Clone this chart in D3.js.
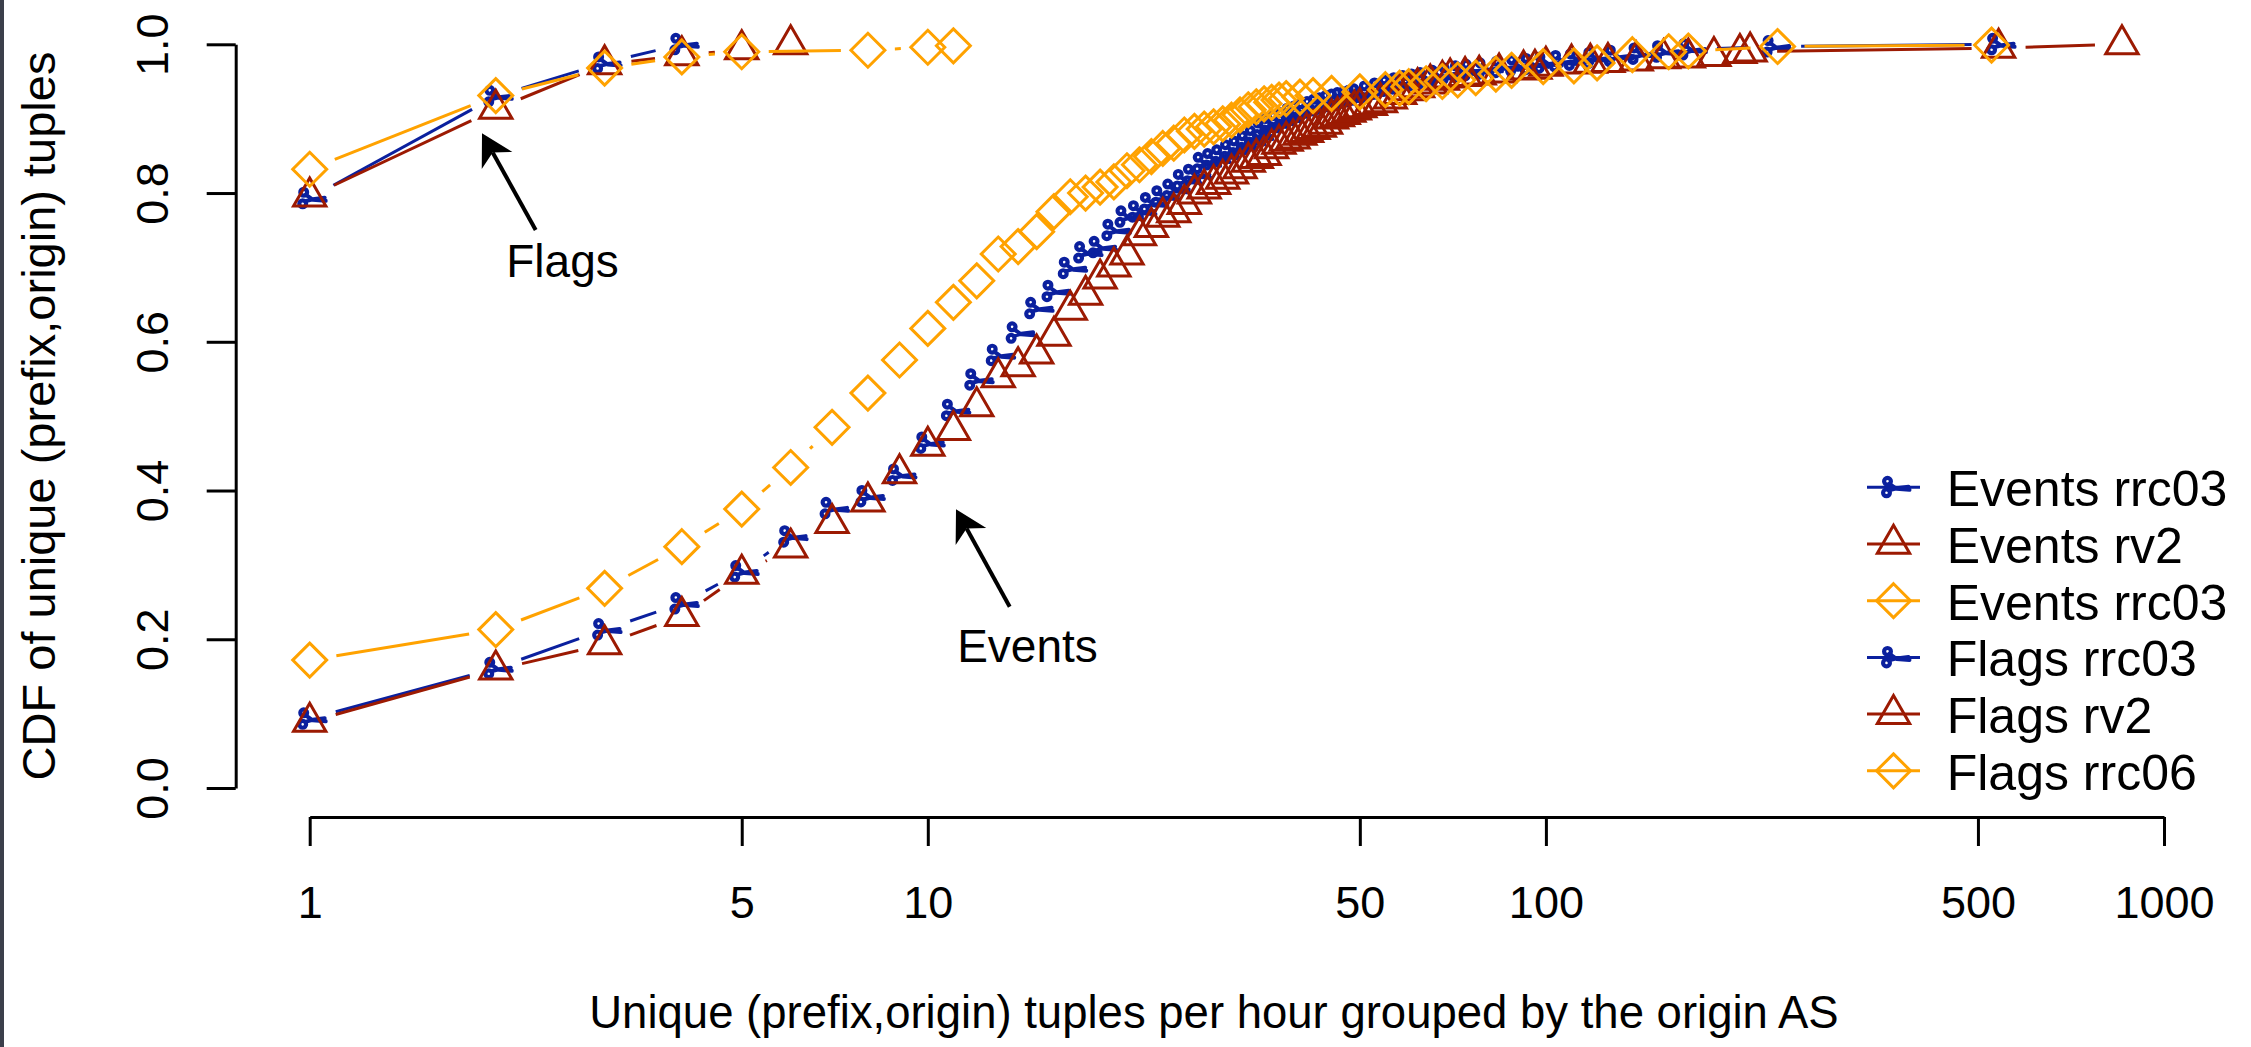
<!DOCTYPE html>
<html>
<head>
<meta charset="utf-8">
<script src="https://cdn.jsdelivr.net/npm/d3@7"></script>
<style>
  body { margin: 0; background: #fff; }
  svg { display: block; font-family: "Liberation Sans", Arial, Helvetica, sans-serif; }
</style>
</head>
<body>
<svg id="chart" width="2251" height="1047"></svg>
<script>
// values (x = tuples per hour, y = CDF)
const eventsRrc03X = [1, 2, 3, 4, 5, 6, 7, 8, 9, 10, 11, 12, 13, 14, 15, 16, 17, 18, 19, 20,
  21, 22, 23, 24, 25, 26, 27, 28, 29, 30, 31, 32, 33, 34, 35, 36, 37, 38, 39, 40,
  41, 42, 43, 44, 45, 46, 47, 48, 49, 50, 52, 54, 56, 58, 60, 62, 64, 67, 70, 73,
  76, 80, 85, 90, 95, 100, 106, 112, 120, 130, 142, 155, 171, 234, 540]
const eventsRrc03Y = [0.093, 0.161, 0.213, 0.248, 0.291, 0.338, 0.376, 0.392, 0.421, 0.464,
  0.508, 0.549, 0.582, 0.612, 0.645, 0.668, 0.699, 0.720, 0.727, 0.750,
  0.768, 0.775, 0.786, 0.795, 0.804, 0.817, 0.824, 0.840, 0.845, 0.850,
  0.857, 0.862, 0.869, 0.876, 0.886, 0.892, 0.896, 0.900, 0.906, 0.909,
  0.912, 0.915, 0.918, 0.920, 0.923, 0.925, 0.927, 0.928, 0.930, 0.932,
  0.936, 0.940, 0.944, 0.947, 0.950, 0.952, 0.954, 0.957, 0.960, 0.963,
  0.965, 0.967, 0.969, 0.971, 0.973, 0.975, 0.977, 0.979, 0.981, 0.984,
  0.987, 0.990, 0.993, 0.997, 1.0]

const eventsRv2X = [1, 2, 3, 4, 5, 6, 7, 8, 9, 10, 11, 12, 13, 14, 15, 16, 17, 18, 19, 20,
  21, 22, 23, 24, 25, 26, 27, 28, 29, 30, 31, 32, 33, 34, 35, 36, 37, 38, 39, 40,
  41, 42, 43, 44, 45, 46, 47, 48, 49, 50, 52, 54, 56, 58, 60, 62, 65, 68, 70, 74,
  78, 84, 92, 96, 100, 110, 118, 126, 140, 155, 170, 187, 206, 214, 540, 855]
const eventsRv2Y = [0.089, 0.159, 0.193, 0.231, 0.288, 0.323, 0.356, 0.385, 0.423, 0.460,
  0.481, 0.513, 0.552, 0.567, 0.584, 0.608, 0.643, 0.663, 0.685, 0.701,
  0.717, 0.743, 0.754, 0.768, 0.774, 0.785, 0.799, 0.806, 0.812, 0.819,
  0.826, 0.833, 0.842, 0.847, 0.851, 0.860, 0.866, 0.870, 0.873, 0.878,
  0.882, 0.886, 0.889, 0.893, 0.900, 0.903, 0.906, 0.909, 0.912, 0.915,
  0.918, 0.922, 0.927, 0.933, 0.938, 0.942, 0.947, 0.952, 0.955, 0.957,
  0.959, 0.962, 0.966, 0.967, 0.971, 0.974, 0.975, 0.976, 0.978, 0.981,
  0.982, 0.984, 0.988, 0.990, 0.995, 1.0]

const eventsRrc03bX = [1, 2, 3, 4, 5, 6, 7, 8, 9, 10, 11, 12, 13, 14, 15, 16, 17, 18, 19, 20,
  21, 22, 23, 24, 25, 26, 27, 28, 29, 30, 31, 32, 33, 34, 35, 36, 37, 38,
  40, 42, 45, 50, 55, 58, 60, 64, 68, 72, 77, 83, 88, 99, 111, 121, 138, 158, 170, 237, 526]
const eventsRrc03bY = [0.172, 0.213, 0.2685, 0.3245, 0.375, 0.431, 0.485, 0.531, 0.5755, 0.618,
  0.653, 0.682, 0.718, 0.728, 0.748, 0.775, 0.795, 0.800, 0.808, 0.815,
  0.830, 0.838, 0.849, 0.860, 0.867, 0.878, 0.883, 0.886, 0.889, 0.893,
  0.898, 0.905, 0.912, 0.916, 0.920, 0.922, 0.925, 0.927,
  0.929, 0.931, 0.934, 0.936, 0.939, 0.941, 0.943, 0.947, 0.950, 0.952, 0.955, 0.960,
  0.965, 0.970, 0.971, 0.975, 0.986, 0.990, 0.991, 0.997, 0.999]

const flagsRrc03X = [1, 2, 3, 4]
const flagsRrc03Y = [0.793, 0.930, 0.975, 1.0]
const flagsRv2X = [1, 2, 3, 4, 5, 6]
const flagsRv2Y = [0.795, 0.913, 0.973, 0.985, 0.993, 1.0]
const flagsRrc06X = [1, 2, 3, 4, 5, 8, 10, 11]
const flagsRrc06Y = [0.832, 0.931, 0.968, 0.983, 0.990, 0.992, 0.996, 0.998]

const xTicks = [1, 5, 10, 50, 100, 500, 1000]
const yTicks = [0, 0.2, 0.4, 0.6, 0.8, 1.0]
const legendLabels = ['Events rrc03', 'Events rv2', 'Events rrc03', 'Flags rrc03', 'Flags rv2', 'Flags rrc06']

const BLUE = '#0b209e', RED = '#9c1a02', ORANGE = '#ffa200'

const series = [
  { xs: eventsRrc03X, ys: eventsRrc03Y, color: BLUE, shape: 'scissors' },
  { xs: eventsRv2X, ys: eventsRv2Y, color: RED, shape: 'triangle' },
  { xs: eventsRrc03bX, ys: eventsRrc03bY, color: ORANGE, shape: 'diamond' },
  { xs: flagsRrc03X, ys: flagsRrc03Y, color: BLUE, shape: 'scissors' },
  { xs: flagsRv2X, ys: flagsRv2Y, color: RED, shape: 'triangle' },
  { xs: flagsRrc06X, ys: flagsRrc06Y, color: ORANGE, shape: 'diamond' },
]

const svg = d3.select('#chart')
svg.append('rect').attr('width', 2251).attr('height', 1047).attr('fill', '#fff')
svg.append('rect').attr('width', 4).attr('height', 1047).attr('fill', '#3b3f4b')

const x = d3.scaleLog().domain([1, 1000]).range([309.7, 2164])
const y = d3.scaleLinear().domain([0, 1]).range([788, 44.3])

// axes, R style: line only between first and last tick
const xAxis = svg.append('g')
  .attr('transform', 'translate(0,817)')
  .call(d3.axisBottom(x).tickValues(xTicks).tickFormat(d3.format('d')).tickSize(29).tickSizeOuter(0))
xAxis.selectAll('text').attr('y', 101).attr('dy', null)

const yAxis = svg.append('g')
  .attr('transform', 'translate(235.7,0)')
  .call(d3.axisLeft(y).tickValues(yTicks).tickFormat(d3.format('.1f')).tickSize(29).tickSizeOuter(0))
yAxis.selectAll('text')
  .attr('x', null).attr('dy', null)
  .attr('text-anchor', 'middle')
  .attr('transform', 'translate(-67.3,0) rotate(-90)')

svg.selectAll('.domain, .tick line').attr('stroke', '#000').attr('stroke-width', 3)
svg.selectAll('.tick text').attr('font-size', 45).attr('fill', '#000')
  .attr('font-family', '"Liberation Sans", Arial, Helvetica, sans-serif')

svg.append('text')
  .attr('x', 1214).attr('y', 1028)
  .attr('text-anchor', 'middle').attr('font-size', 45.5)
  .text('Unique (prefix,origin) tuples per hour grouped by the origin AS')

svg.append('text')
  .attr('transform', 'translate(55,416) rotate(-90)')
  .attr('text-anchor', 'middle').attr('font-size', 47)
  .text('CDF of unique (prefix,origin) tuples')

// marker shapes, sized like R's pch at this resolution
const R = 12
const shapes = {
  triangle: `M0,${-1.555 * R}L${1.3468 * R},${0.7776 * R}L${-1.3468 * R},${0.7776 * R}Z`,
  diamond: `M0,${-1.414 * R}L${1.414 * R},0L0,${1.414 * R}L${-1.414 * R},0Z`,
}

function drawMarker(g, shape, color) {
  if (shape === 'scissors') {
    g.append('circle').attr('cx', -6).attr('cy', -6).attr('r', 3.4)
      .attr('fill', 'none').attr('stroke', color).attr('stroke-width', 4.2)
    g.append('circle').attr('cx', -7).attr('cy', 5.5).attr('r', 3.4)
      .attr('fill', 'none').attr('stroke', color).attr('stroke-width', 4.2)
    g.append('path').attr('d', 'M-4,-3.5L3,1.5L16,2.5M-4.5,3L3,1L15,-0.5')
      .attr('fill', 'none').attr('stroke', color).attr('stroke-width', 4)
      .attr('stroke-linecap', 'round').attr('stroke-linejoin', 'round')
  } else {
    g.append('path').attr('d', shapes[shape])
      .attr('fill', 'none').attr('stroke', color).attr('stroke-width', 3)
  }
}

// type = "b": segments stop short of each point
const GAP = 27
function gapped(pts) {
  const segs = []
  for (let i = 1; i < pts.length; i++) {
    const [x0, y0] = pts[i - 1], [x1, y1] = pts[i]
    const d = Math.hypot(x1 - x0, y1 - y0)
    if (d <= 2 * GAP) continue
    const ux = (x1 - x0) / d, uy = (y1 - y0) / d
    segs.push([x0 + ux * GAP, y0 + uy * GAP, x1 - ux * GAP, y1 - uy * GAP])
  }
  return segs
}

const plot = svg.append('g')
for (const s of series) {
  const pts = s.xs.map((v, i) => [x(v), y(s.ys[i])])
  const g = plot.append('g')
  g.selectAll('line').data(gapped(pts)).join('line')
    .attr('x1', d => d[0]).attr('y1', d => d[1])
    .attr('x2', d => d[2]).attr('y2', d => d[3])
    .attr('stroke', s.color).attr('stroke-width', 3)
  g.selectAll('g.pt').data(pts).join('g')
    .attr('class', 'pt')
    .attr('transform', d => `translate(${d[0]},${d[1]})`)
    .each(function () { drawMarker(d3.select(this), s.shape, s.color) })
}

// annotations with filled arrowheads
function arrow(x0, y0, x1, y1) {
  const d = Math.hypot(x1 - x0, y1 - y0)
  const ux = (x0 - x1) / d, uy = (y0 - y1) / d
  const nx = -uy, ny = ux
  const L = 31, W = 17.5, N = 22
  svg.append('line')
    .attr('x1', x0).attr('y1', y0)
    .attr('x2', x1 + ux * N).attr('y2', y1 + uy * N)
    .attr('stroke', '#000').attr('stroke-width', 4)
  svg.append('path')
    .attr('d', `M${x1},${y1}L${x1 + ux * L + nx * W},${y1 + uy * L + ny * W}` +
      `L${x1 + ux * N},${y1 + uy * N}L${x1 + ux * L - nx * W},${y1 + uy * L - ny * W}Z`)
    .attr('fill', '#000')
}
arrow(535.7, 230, 482, 133.3)
arrow(1009.7, 606.7, 956, 509.3)
svg.append('text').attr('x', 562.5).attr('y', 276.7)
  .attr('text-anchor', 'middle').attr('font-size', 46).text('Flags')
svg.append('text').attr('x', 1027.5).attr('y', 661.7)
  .attr('text-anchor', 'middle').attr('font-size', 46).text('Events')

// legend
const legend = svg.append('g')
legendLabels.forEach((label, i) => {
  const ly = 487.3 + i * 56.7
  const s = series[i]
  legend.append('line').attr('x1', 1867).attr('x2', 1920).attr('y1', ly).attr('y2', ly)
    .attr('stroke', s.color).attr('stroke-width', 3)
  drawMarker(legend.append('g').attr('transform', `translate(1893.5,${ly})`), s.shape, s.color)
  legend.append('text').attr('x', 1946.7).attr('y', ly + 19)
    .attr('font-size', 50).text(label)
})
</script>
</body>
</html>
